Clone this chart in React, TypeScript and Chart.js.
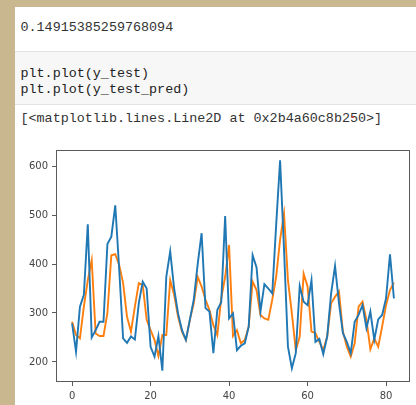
import React, { useEffect, useRef } from "react";
import { Chart, registerables } from "chart.js";

Chart.register(...registerables);

// y_test (blue)
const yTest: number[] = [
  279, 221, 313, 337, 481, 250, 265, 282, 282, 441,
  456, 520, 390, 248, 239, 252, 246, 320, 364, 350,
  231, 211, 253, 182, 374, 426, 350, 299, 265, 245,
  286, 327, 400, 463, 310, 303, 218, 306, 322, 498,
  289, 299, 224, 233, 238, 272, 418, 393, 303, 359,
  350, 340, 480, 612, 430, 231, 187, 218, 355, 323,
  316, 367, 241, 247, 216, 252, 340, 396, 320, 259,
  241, 218, 282, 296, 316, 269, 303, 245, 287, 296,
  330, 420, 330,
];

// y_test_pred (orange)
const yTestPred: number[] = [
  282, 255, 248, 313, 367, 408, 258, 253, 253, 300,
  418, 420, 398, 361, 292, 262, 313, 361, 357, 286,
  265, 245, 212, 255, 255, 367, 337, 292, 262, 245,
  286, 320, 374, 354, 327, 306, 275, 255, 330, 374,
  439, 253, 265, 238, 245, 272, 364, 347, 296, 289,
  286, 327, 374, 450, 503, 367, 299, 224, 252, 380,
  354, 262, 259, 241, 224, 252, 320, 333, 344, 262,
  231, 211, 238, 313, 323, 286, 226, 248, 231, 272,
  316, 347, 362,
];

const xTicks: number[] = [0, 20, 40, 60, 80];
const yTicks: number[] = [200, 300, 400, 500, 600];

const scoreText = "0.14915385259768094";
const codeLines: string[] = ["plt.plot(y_test)", "plt.plot(y_test_pred)"];
const outputText = "[<matplotlib.lines.Line2D at 0x2b4a60c8b250>]";

const framePlugin = {
  id: "frame",
  afterDatasetsDraw(chart: any) {
    const { ctx, chartArea: a } = chart;
    ctx.save();
    ctx.strokeStyle = "#5a5a5a";
    ctx.lineWidth = 1;
    ctx.strokeRect(
      Math.round(a.left) + 0.5,
      Math.round(a.top) + 0.5,
      Math.round(a.right - a.left) - 1,
      Math.round(a.bottom - a.top) - 1
    );
    ctx.restore();
  },
};

function PlotChart() {
  const ref = useRef<HTMLCanvasElement | null>(null);
  useEffect(() => {
    if (!ref.current) return;
    const toPts = (arr: number[]) => arr.map((v, i) => ({ x: i, y: v }));
    const tickFont = { family: "DejaVu Sans", size: 10 };
    const chart = new Chart(ref.current, {
      type: "line",
      data: {
        datasets: [
          {
            label: "y_test",
            data: toPts(yTest),
            borderColor: "#1f77b4",
            borderWidth: 1.9,
            pointRadius: 0,
            tension: 0,
            fill: false,
          },
          {
            label: "y_test_pred",
            data: toPts(yTestPred),
            borderColor: "#ff7f0e",
            borderWidth: 1.9,
            pointRadius: 0,
            tension: 0,
            fill: false,
          },
        ],
      },
      options: {
        animation: false,
        responsive: false,
        maintainAspectRatio: false,
        devicePixelRatio: 1,
        layout: { padding: { left: 0, right: 6, top: 10, bottom: 0 } },
        plugins: {
          legend: { display: false },
          tooltip: { enabled: false },
          title: { display: false },
        },
        scales: {
          x: {
            type: "linear",
            min: -4.1,
            max: 86.1,
            grid: {
              display: true,
              drawOnChartArea: false,
              drawTicks: true,
              tickLength: 4,
              color: "#5a5a5a",
            },
            border: { display: false },
            ticks: {
              font: tickFont,
              color: "#444",
              padding: 4,
              maxRotation: 0,
            },
            afterBuildTicks: (scale: any) => {
              scale.ticks = xTicks.map((v) => ({ value: v }));
            },
            afterFit: (scale: any) => {
              scale.height = 23;
            },
          },
          y: {
            type: "linear",
            min: 159,
            max: 633,
            grid: {
              display: true,
              drawOnChartArea: false,
              drawTicks: true,
              tickLength: 4,
              color: "#5a5a5a",
            },
            border: { display: false },
            ticks: {
              font: tickFont,
              color: "#444",
              padding: 4,
            },
            afterBuildTicks: (scale: any) => {
              scale.ticks = yTicks.map((v) => ({ value: v }));
            },
            afterFit: (scale: any) => {
              scale.width = 56;
            },
          },
        },
      },
      plugins: [framePlugin],
    });
    return () => chart.destroy();
  }, []);
  return <canvas ref={ref} width={416} height={265} style={{ display: "block", width: 416, height: 265 }} />;
}

export default function App() {
  const mono = "'Liberation Mono', 'DejaVu Sans Mono', monospace";
  const textStyle: React.CSSProperties = {
    position: "absolute",
    left: 20.5,
    fontFamily: mono,
    fontSize: 13.4,
    lineHeight: "16px",
    whiteSpace: "pre",
    margin: 0,
  };
  return (
    <div style={{ position: "fixed", left: 0, top: 0, width: 416, height: 405, background: "#c8b78f", overflow: "hidden" }}>
      <div style={{ position: "absolute", left: 15, top: 7, right: 0, bottom: 0, background: "#ffffff" }} />
      <div style={{ ...textStyle, top: 20, color: "#333" }}>{scoreText}</div>
      <div
        style={{
          position: "absolute",
          left: 15,
          right: 0,
          top: 51,
          height: 52,
          background: "#f7f7f7",
          borderTop: "1px solid #e2e2e2",
          borderBottom: "1px solid #e2e2e2",
        }}
      />
      <div style={{ ...textStyle, top: 65.5, color: "#222", lineHeight: "16.5px" }}>
        {codeLines.join("\n")}
      </div>
      <div style={{ ...textStyle, top: 110.5, color: "#333" }}>{outputText}</div>
      <div style={{ position: "absolute", left: 351.5, top: 115.5, width: 2.5, height: 2.5, borderRadius: 2, background: "#e0302a" }} />
      <div style={{ position: "absolute", left: 0, top: 140 }}>
        <PlotChart />
      </div>
    </div>
  );
}
